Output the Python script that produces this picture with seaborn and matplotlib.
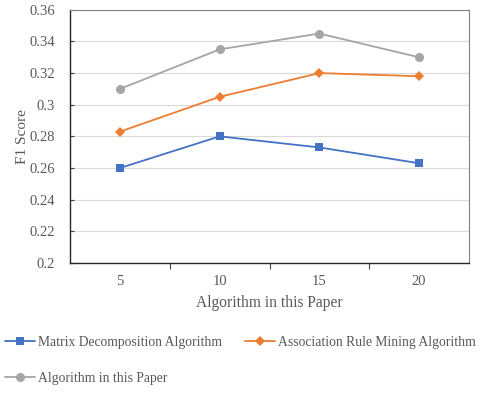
import pandas as pd
import seaborn as sns
import matplotlib.pyplot as plt
from matplotlib.lines import Line2D

# chart values
x_labels = ['5', '10', '15', '20']
matrix_vals = [0.260, 0.280, 0.273, 0.263]
assoc_vals = [0.283, 0.305, 0.320, 0.318]
paper_vals = [0.310, 0.335, 0.345, 0.330]
series_names = ['Matrix Decomposition Algorithm',
                'Association Rule Mining Algorithm',
                'Algorithm in this Paper']

df = pd.DataFrame({
    'x': x_labels * 3,
    'score': matrix_vals + assoc_vals + paper_vals,
    'series': [series_names[0]] * 4 + [series_names[1]] * 4 + [series_names[2]] * 4,
})

sns.set_style('white')
plt.rcParams['font.family'] = ['Liberation Serif', 'DejaVu Serif']
text_color = '#595959'

colors = ['#4472C4', '#ED7D31', '#A5A5A5']
markers = ['s', 'D', 'o']
msizes = [6, 5, 6.5]

fig = plt.figure(figsize=(4.8, 3.93), dpi=100)
ax = fig.add_axes([0.146, 0.331, 0.831, 0.644])

for name, c, m, ms in zip(series_names, colors, markers, msizes):
    sub = df[df['series'] == name]
    sns.lineplot(data=sub, x='x', y='score', ax=ax, color=c, marker=m,
                 markersize=ms, markeredgewidth=0, linewidth=1.3, sort=False,
                 legend=False)

ax.set_xlim(-0.5, 3.5)
ax.set_ylim(0.2, 0.36)
ax.set_yticks([0.2, 0.22, 0.24, 0.26, 0.28, 0.3, 0.32, 0.34, 0.36])
ax.set_yticklabels(['0.2', '0.22', '0.24', '0.26', '0.28', '0.3', '0.32', '0.34', '0.36'])
ax.yaxis.grid(True, color='#d9d9d9', linewidth=0.8)
ax.set_axisbelow(True)

ax.set_xticks([0.5, 1.5, 2.5], minor=True)
ax.tick_params(axis='x', which='major', length=0, pad=9, labelsize=10.5, labelcolor=text_color)
ax.tick_params(axis='x', which='minor', length=4, width=0.8, direction='out', color='#404040', bottom=True)
ax.tick_params(axis='y', length=3, width=0.8, direction='in', color='#404040', left=True,
               pad=11, labelsize=10.5, labelcolor=text_color)

for side in ['top', 'right']:
    ax.spines[side].set_color('#808080')
    ax.spines[side].set_linewidth(0.8)
for side in ['left', 'bottom']:
    ax.spines[side].set_color('#262626')
    ax.spines[side].set_linewidth(1.0)

ax.set_xlabel('Algorithm in this Paper', fontsize=11.2, color=text_color, labelpad=5)
ax.set_ylabel('F1 Score', fontsize=11, color=text_color)
ax.yaxis.set_label_coords(-0.103, 0.5)

handles = [Line2D([], [], color=c, marker=m, markersize=ms, markeredgewidth=0, linewidth=1.3)
           for c, m, ms in zip(colors, markers, msizes)]
# matplotlib fills legend columns first, so reorder to get row-wise order
order = [0, 2, 1]
fig.legend([handles[i] for i in order], [series_names[i] for i in order],
           loc='upper left', bbox_to_anchor=(0.01, 0.146),
           ncol=2, frameon=False, fontsize=9.85, labelcolor=text_color,
           handlelength=2.2, handletextpad=0.2, columnspacing=1.7,
           labelspacing=1.7, borderaxespad=0, borderpad=0)

fig.savefig('out.png', dpi=100)
